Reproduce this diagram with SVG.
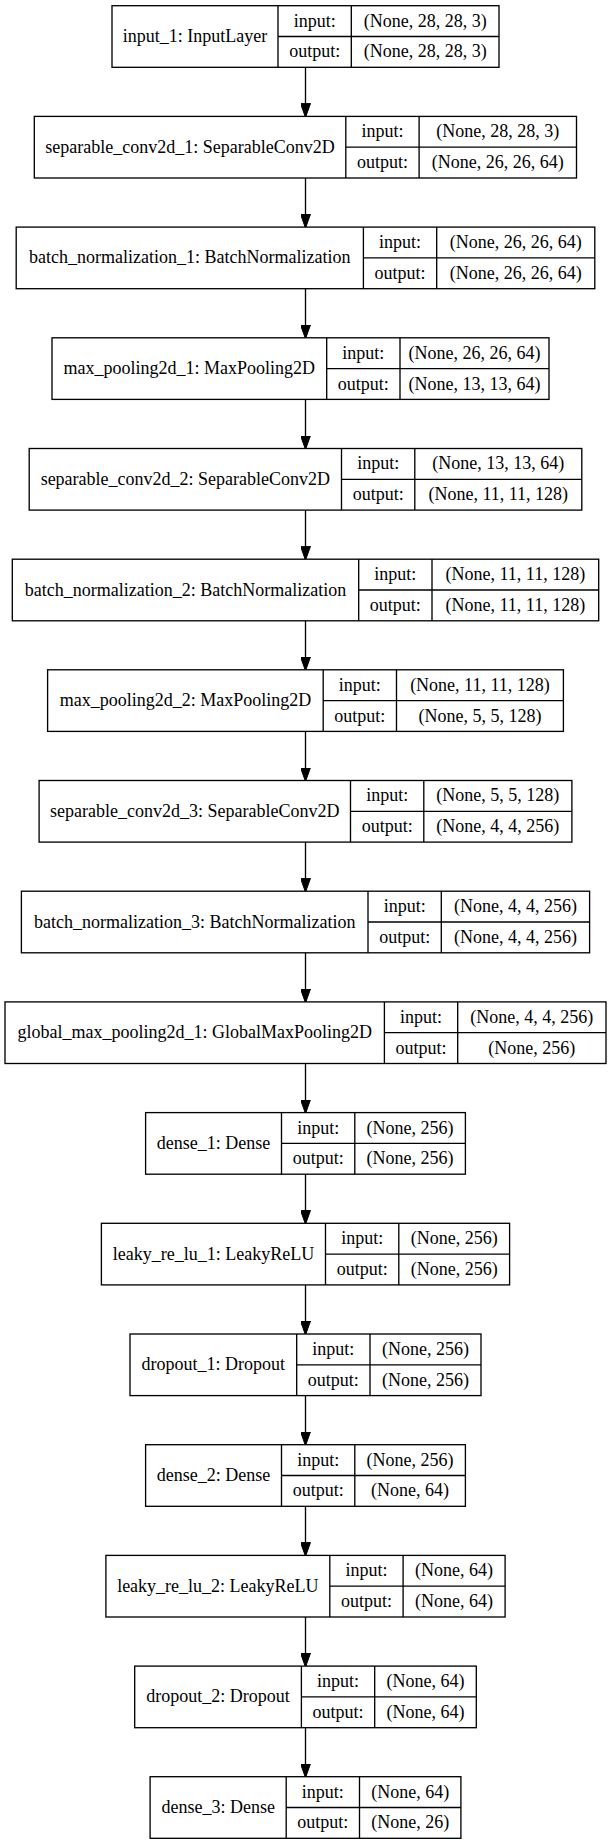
<svg xmlns="http://www.w3.org/2000/svg" width="611" height="1844" viewBox="0 0 611 1844">
<style>
.b{fill:#fff;stroke:#000;stroke-width:1.33}
.l{stroke:#000;stroke-width:1.33;fill:none}
text{font-family:"Liberation Serif","Times New Roman",serif;font-size:18px;fill:#000;text-anchor:middle}
.c{stroke:#000;stroke-width:1.33;fill:none;marker-end:url(#ah)}
</style>
<defs>
<marker id="ah" markerUnits="userSpaceOnUse" markerWidth="14" markerHeight="10" refX="13" refY="5" orient="auto" viewBox="0 0 14 10">
<path d="M0,0 L14,5 L0,10 z" fill="#000" stroke="#000" stroke-width="1"/>
</marker>
</defs>
<rect width="611" height="1844" fill="#fff"/>
<g id="connectors">
<line class="c" x1="305.5" y1="67.3" x2="305.5" y2="116.4"/>
<line class="c" x1="305.5" y1="178" x2="305.5" y2="227.1"/>
<line class="c" x1="305.5" y1="288.7" x2="305.5" y2="337.8"/>
<line class="c" x1="305.5" y1="399.4" x2="305.5" y2="448.5"/>
<line class="c" x1="305.5" y1="510.1" x2="305.5" y2="559.2"/>
<line class="c" x1="305.5" y1="620.8" x2="305.5" y2="669.8"/>
<line class="c" x1="305.5" y1="731.4" x2="305.5" y2="780.5"/>
<line class="c" x1="305.5" y1="842.1" x2="305.5" y2="891.2"/>
<line class="c" x1="305.5" y1="952.8" x2="305.5" y2="1001.9"/>
<line class="c" x1="305.5" y1="1063.5" x2="305.5" y2="1112.6"/>
<line class="c" x1="305.5" y1="1174.2" x2="305.5" y2="1223.3"/>
<line class="c" x1="305.5" y1="1284.9" x2="305.5" y2="1334"/>
<line class="c" x1="305.5" y1="1395.6" x2="305.5" y2="1444.7"/>
<line class="c" x1="305.5" y1="1506.3" x2="305.5" y2="1555.4"/>
<line class="c" x1="305.5" y1="1617" x2="305.5" y2="1666.1"/>
<line class="c" x1="305.5" y1="1727.7" x2="305.5" y2="1776.7"/>
</g>
<g id="input_1">
<rect class="b" x="112" y="5.7" width="387" height="61.6"/>
<path class="l" d="M278,5.7V67.3M351.3,5.7V67.3M278,36.5H499"/>
<text x="195" y="42">input_1: InputLayer</text>
<text x="314.65" y="26.6">input:</text><text x="314.65" y="57.4">output:</text>
<text x="425.15" y="26.6">(None, 28, 28, 3)</text><text x="425.15" y="57.4">(None, 28, 28, 3)</text>
</g>
<g id="separable_conv2d_1">
<rect class="b" x="34.3" y="116.4" width="542.2" height="61.6"/>
<path class="l" d="M345.8,116.4V178M419.1,116.4V178M345.8,147.2H576.5"/>
<text x="190.05" y="152.7">separable_conv2d_1: SeparableConv2D</text>
<text x="382.45" y="137.3">input:</text><text x="382.45" y="168.1">output:</text>
<text x="497.8" y="137.3">(None, 28, 28, 3)</text><text x="497.8" y="168.1">(None, 26, 26, 64)</text>
</g>
<g id="batch_normalization_1">
<rect class="b" x="16.2" y="227.1" width="578.6" height="61.6"/>
<path class="l" d="M363.4,227.1V288.7M436.7,227.1V288.7M363.4,257.9H594.8"/>
<text x="189.8" y="263.4">batch_normalization_1: BatchNormalization</text>
<text x="400.05" y="248">input:</text><text x="400.05" y="278.8">output:</text>
<text x="515.75" y="248">(None, 26, 26, 64)</text><text x="515.75" y="278.8">(None, 26, 26, 64)</text>
</g>
<g id="max_pooling2d_1">
<rect class="b" x="52" y="337.8" width="497" height="61.6"/>
<path class="l" d="M326.7,337.8V399.4M400,337.8V399.4M326.7,368.6H549"/>
<text x="189.35" y="374.1">max_pooling2d_1: MaxPooling2D</text>
<text x="363.35" y="358.7">input:</text><text x="363.35" y="389.5">output:</text>
<text x="474.5" y="358.7">(None, 26, 26, 64)</text><text x="474.5" y="389.5">(None, 13, 13, 64)</text>
</g>
<g id="separable_conv2d_2">
<rect class="b" x="29.2" y="448.5" width="552.6" height="61.6"/>
<path class="l" d="M341.5,448.5V510.1M414.8,448.5V510.1M341.5,479.3H581.8"/>
<text x="185.35" y="484.8">separable_conv2d_2: SeparableConv2D</text>
<text x="378.15" y="469.4">input:</text><text x="378.15" y="500.2">output:</text>
<text x="498.3" y="469.4">(None, 13, 13, 64)</text><text x="498.3" y="500.2">(None, 11, 11, 128)</text>
</g>
<g id="batch_normalization_2">
<rect class="b" x="12.3" y="559.2" width="586.4" height="61.6"/>
<path class="l" d="M358.7,559.2V620.8M432,559.2V620.8M358.7,590H598.7"/>
<text x="185.5" y="595.5">batch_normalization_2: BatchNormalization</text>
<text x="395.35" y="580.1">input:</text><text x="395.35" y="610.9">output:</text>
<text x="515.35" y="580.1">(None, 11, 11, 128)</text><text x="515.35" y="610.9">(None, 11, 11, 128)</text>
</g>
<g id="max_pooling2d_2">
<rect class="b" x="47.6" y="669.8" width="515.8" height="61.6"/>
<path class="l" d="M323.2,669.8V731.4M396.5,669.8V731.4M323.2,700.6H563.4"/>
<text x="185.4" y="706.1">max_pooling2d_2: MaxPooling2D</text>
<text x="359.85" y="690.7">input:</text><text x="359.85" y="721.5">output:</text>
<text x="479.95" y="690.7">(None, 11, 11, 128)</text><text x="479.95" y="721.5">(None, 5, 5, 128)</text>
</g>
<g id="separable_conv2d_3">
<rect class="b" x="39.1" y="780.5" width="532.8" height="61.6"/>
<path class="l" d="M350.5,780.5V842.1M423.8,780.5V842.1M350.5,811.3H571.9"/>
<text x="194.8" y="816.8">separable_conv2d_3: SeparableConv2D</text>
<text x="387.15" y="801.4">input:</text><text x="387.15" y="832.2">output:</text>
<text x="497.85" y="801.4">(None, 5, 5, 128)</text><text x="497.85" y="832.2">(None, 4, 4, 256)</text>
</g>
<g id="batch_normalization_3">
<rect class="b" x="21.4" y="891.2" width="568.2" height="61.6"/>
<path class="l" d="M368,891.2V952.8M441.3,891.2V952.8M368,922H589.6"/>
<text x="194.7" y="927.5">batch_normalization_3: BatchNormalization</text>
<text x="404.65" y="912.1">input:</text><text x="404.65" y="942.9">output:</text>
<text x="515.45" y="912.1">(None, 4, 4, 256)</text><text x="515.45" y="942.9">(None, 4, 4, 256)</text>
</g>
<g id="global_max_pooling2d_1">
<rect class="b" x="5" y="1001.9" width="601" height="61.6"/>
<path class="l" d="M384.4,1001.9V1063.5M457.7,1001.9V1063.5M384.4,1032.7H606"/>
<text x="194.7" y="1038.2">global_max_pooling2d_1: GlobalMaxPooling2D</text>
<text x="421.05" y="1022.8">input:</text><text x="421.05" y="1053.6">output:</text>
<text x="531.85" y="1022.8">(None, 4, 4, 256)</text><text x="531.85" y="1053.6">(None, 256)</text>
</g>
<g id="dense_1">
<rect class="b" x="145.6" y="1112.6" width="319.8" height="61.6"/>
<path class="l" d="M281.5,1112.6V1174.2M354.8,1112.6V1174.2M281.5,1143.4H465.4"/>
<text x="213.55" y="1148.9">dense_1: Dense</text>
<text x="318.15" y="1133.5">input:</text><text x="318.15" y="1164.3">output:</text>
<text x="410.1" y="1133.5">(None, 256)</text><text x="410.1" y="1164.3">(None, 256)</text>
</g>
<g id="leaky_re_lu_1">
<rect class="b" x="101.4" y="1223.3" width="408.2" height="61.6"/>
<path class="l" d="M325.5,1223.3V1284.9M398.8,1223.3V1284.9M325.5,1254.1H509.6"/>
<text x="213.45" y="1259.6">leaky_re_lu_1: LeakyReLU</text>
<text x="362.15" y="1244.2">input:</text><text x="362.15" y="1275">output:</text>
<text x="454.2" y="1244.2">(None, 256)</text><text x="454.2" y="1275">(None, 256)</text>
</g>
<g id="dropout_1">
<rect class="b" x="130" y="1334" width="351" height="61.6"/>
<path class="l" d="M296.7,1334V1395.6M370,1334V1395.6M296.7,1364.8H481"/>
<text x="213.35" y="1370.3">dropout_1: Dropout</text>
<text x="333.35" y="1354.9">input:</text><text x="333.35" y="1385.7">output:</text>
<text x="425.5" y="1354.9">(None, 256)</text><text x="425.5" y="1385.7">(None, 256)</text>
</g>
<g id="dense_2">
<rect class="b" x="145.6" y="1444.7" width="319.8" height="61.6"/>
<path class="l" d="M281.5,1444.7V1506.3M354.8,1444.7V1506.3M281.5,1475.5H465.4"/>
<text x="213.55" y="1481">dense_2: Dense</text>
<text x="318.15" y="1465.6">input:</text><text x="318.15" y="1496.4">output:</text>
<text x="410.1" y="1465.6">(None, 256)</text><text x="410.1" y="1496.4">(None, 64)</text>
</g>
<g id="leaky_re_lu_2">
<rect class="b" x="105.9" y="1555.4" width="399.2" height="61.6"/>
<path class="l" d="M329.8,1555.4V1617M403.1,1555.4V1617M329.8,1586.2H505.1"/>
<text x="217.85" y="1591.7">leaky_re_lu_2: LeakyReLU</text>
<text x="366.45" y="1576.3">input:</text><text x="366.45" y="1607.1">output:</text>
<text x="454.1" y="1576.3">(None, 64)</text><text x="454.1" y="1607.1">(None, 64)</text>
</g>
<g id="dropout_2">
<rect class="b" x="134.7" y="1666.1" width="341.6" height="61.6"/>
<path class="l" d="M301.4,1666.1V1727.7M374.7,1666.1V1727.7M301.4,1696.9H476.3"/>
<text x="218.05" y="1702.4">dropout_2: Dropout</text>
<text x="338.05" y="1687">input:</text><text x="338.05" y="1717.8">output:</text>
<text x="425.5" y="1687">(None, 64)</text><text x="425.5" y="1717.8">(None, 64)</text>
</g>
<g id="dense_3">
<rect class="b" x="150.1" y="1776.7" width="310.8" height="61.6"/>
<path class="l" d="M286.2,1776.7V1838.3M359.5,1776.7V1838.3M286.2,1807.5H460.9"/>
<text x="218.15" y="1813">dense_3: Dense</text>
<text x="322.85" y="1797.6">input:</text><text x="322.85" y="1828.4">output:</text>
<text x="410.2" y="1797.6">(None, 64)</text><text x="410.2" y="1828.4">(None, 26)</text>
</g>
</svg>
